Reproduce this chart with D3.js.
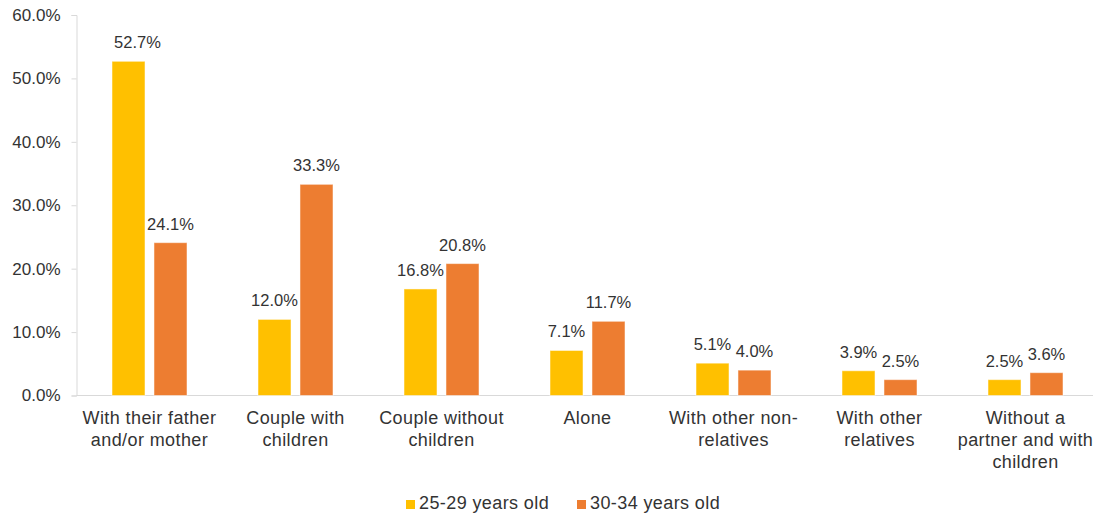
<!DOCTYPE html>
<html><head><meta charset="utf-8">
<script src="https://cdn.jsdelivr.net/npm/d3@7"></script>
<style>
body{margin:0;background:#fff;}
text{font-family:"Liberation Sans",Arial,sans-serif;fill:#333;}
</style></head>
<body><svg id="c" width="1093" height="517"></svg>
<script>
const categories = [
  ["With their father","and/or mother"],
  ["Couple with","children"],
  ["Couple without","children"],
  ["Alone"],
  ["With other non-","relatives"],
  ["With other","relatives"],
  ["Without a","partner and with","children"]
];
const seriesNames = ["25-29 years old","30-34 years old"];
const values2529 = [52.7,12.0,16.8,7.1,5.1,3.9,2.5];
const values3034 = [24.1,33.3,20.8,11.7,4.0,2.5,3.6];
const yTicks = [0,10,20,30,40,50,60];
const colors = ["#FFC000","#ED7D31"];

(function(){
const svg = d3.select("#c");
const pL=76.5, pR=1098.5, pT=15, pB=395.5;
const x = d3.scaleBand().domain(d3.range(categories.length)).range([pL,pR]).paddingInner(0).paddingOuter(0);
const y = d3.scaleLinear().domain([0,60]).range([pB,pT]);
const sub = d3.scaleBand().domain([0,1]).range([x.bandwidth()/2-37.5, x.bandwidth()/2+37.5]).paddingInner(0.214);

const yAxis = d3.axisLeft(y).tickValues(yTicks).tickSize(5).tickPadding(11).tickFormat(d=>d.toFixed(1)+"%");
const ga = svg.append("g").attr("transform",`translate(${pL},0)`).call(yAxis);
ga.select(".domain").attr("stroke","#d9d9d9");
ga.selectAll(".tick line").attr("stroke","#d9d9d9");
ga.selectAll(".tick text").attr("font-size","17px").style("font-family","Liberation Sans, Arial, sans-serif").attr("fill","#333");

svg.append("line").attr("x1",pL).attr("x2",pR).attr("y1",pB).attr("y2",pB).attr("stroke","#d9d9d9");

const series=[values2529,values3034];
const labelDx=[[9,0,0,0,0,0,0],[0,0,0,0,0,0,0]];
series.forEach((vals,si)=>{
  const g=svg.append("g");
  g.selectAll("rect").data(vals).join("rect")
    .attr("x",(d,i)=>x(i)+sub(si))
    .attr("y",d=>y(d))
    .attr("width",sub.bandwidth())
    .attr("height",d=>pB-y(d))
    .attr("fill",colors[si])
    .attr("stroke","rgba(255,255,255,0.5)").attr("stroke-width",1);
  g.selectAll("text").data(vals).join("text")
    .attr("x",(d,i)=>x(i)+sub(si)+sub.bandwidth()/2+labelDx[si][i])
    .attr("y",d=>y(d)-13)
    .attr("text-anchor","middle")
    .attr("font-size","16.5px")
    .text(d=>d.toFixed(1)+"%");
});

categories.forEach((lines,i)=>{
  const t=svg.append("text").attr("text-anchor","middle").attr("font-size","18px")
    .attr("letter-spacing","0.4px")
    .attr("x",x(i)+x.bandwidth()/2).attr("y",424);
  lines.forEach((l,k)=>t.append("tspan").attr("x",x(i)+x.bandwidth()/2).attr("dy",k?22:0).text(l));
});

const legX=[406,577];
seriesNames.forEach((n,i)=>{
  svg.append("rect").attr("x",legX[i]).attr("y",500).attr("width",9).attr("height",9).attr("fill",colors[i]);
  svg.append("text").attr("x",legX[i]+13).attr("y",509).attr("font-size","18px").attr("letter-spacing","0.4px").text(n);
});
})();
</script></body></html>
